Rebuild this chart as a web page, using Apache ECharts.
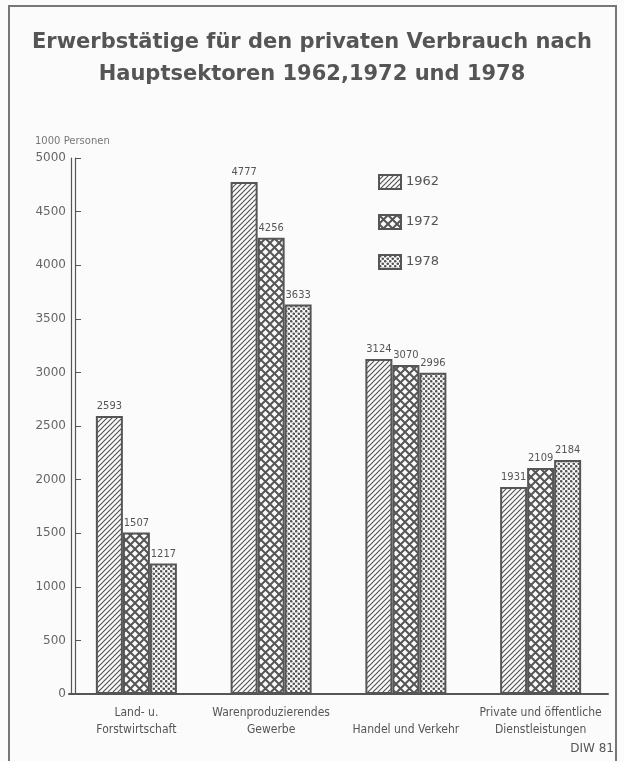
<!DOCTYPE html>
<html>
<head>
<meta charset="utf-8">
<script src="https://cdn.jsdelivr.net/npm/echarts@6/dist/echarts.min.js"></script>
<style>
  html, body { margin: 0; padding: 0; background: #fbfbfb; }
  #chart { width: 624px; height: 761px; }
</style>
</head>
<body>
<div id="chart"></div>
<script>
// Erwerbstätige nach Hauptsektoren, in 1000 Personen
var categories = ['Land- u.\nForstwirtschaft', 'Warenproduzierendes\nGewerbe', '\nHandel und Verkehr', 'Private und öffentliche\nDienstleistungen']
var years = ['1962', '1972', '1978']
var values1962 = [2593, 4777, 3124, 1931]
var values1972 = [1507, 4256, 3070, 2109]
var values1978 = [1217, 3633, 2996, 2184]
var yTicks = [0, 500, 1000, 1500, 2000, 2500, 3000, 3500, 4000, 4500, 5000]

var ink = '#555'

// Schraffuren als Canvas-Muster
function makeTile (w, h, draw) {
  var c = document.createElement('canvas')
  c.width = w
  c.height = h
  var ctx = c.getContext('2d')
  ctx.fillStyle = '#fbfbfb'
  ctx.fillRect(0, 0, w, h)
  ctx.strokeStyle = ink
  ctx.fillStyle = ink
  draw(ctx)
  return { image: c, repeat: 'repeat' }
}
var hatch = makeTile(5, 5, function (ctx) {
  ctx.lineWidth = 1.2
  ctx.beginPath()
  ctx.moveTo(0, 5); ctx.lineTo(5, 0)
  ctx.moveTo(-1, 1); ctx.lineTo(1, -1)
  ctx.moveTo(4, 6); ctx.lineTo(6, 4)
  ctx.stroke()
})
var cross = makeTile(9, 9, function (ctx) {
  ctx.lineWidth = 2
  ctx.beginPath()
  ctx.moveTo(0, 0); ctx.lineTo(9, 9)
  ctx.moveTo(0, 9); ctx.lineTo(9, 0)
  ctx.stroke()
})
var dots = makeTile(5, 5, function (ctx) {
  ctx.beginPath(); ctx.arc(1.25, 1.25, 1.3, 0, Math.PI * 2); ctx.fill()
  ctx.beginPath(); ctx.arc(3.75, 3.75, 1.3, 0, Math.PI * 2); ctx.fill()
})
var patterns = [hatch, cross, dots]
var seriesValues = [values1962, values1972, values1978]

var narrow = "'Liberation Sans Narrow', 'DejaVu Sans Condensed', sans-serif"

var chart = echarts.init(document.getElementById('chart'))
var option = {
  backgroundColor: '#fbfbfb',
  animation: false,
  title: {
    text: 'Erwerbstätige für den privaten Verbrauch nach\nHauptsektoren 1962,1972 und 1978',
    left: 'center',
    top: 22,
    textStyle: {
      fontFamily: 'DejaVu Sans',
      fontWeight: 'bold',
      fontSize: 21,
      lineHeight: 32,
      color: ink
    }
  },
  legend: {
    data: years,
    orient: 'vertical',
    left: 373,
    top: 169,
    itemWidth: 22,
    itemHeight: 14,
    itemGap: 24,
    icon: 'rect',
    textStyle: { fontFamily: 'DejaVu Sans', fontSize: 13, color: ink, padding: [0, 0, 0, 0] }
  },
  grid: { left: 69, right: 16, top: 158, bottom: 67 },
  xAxis: {
    type: 'category',
    data: categories,
    axisLine: { lineStyle: { color: ink, width: 2 } },
    axisTick: { show: false },
    axisLabel: {
      fontFamily: narrow,
      fontSize: 12,
      lineHeight: 17,
      color: ink,
      margin: 10,
      interval: 0
    }
  },
  yAxis: [
    {
      type: 'value',
      position: 'left',
      min: 0,
      max: 5000,
      interval: 500,
      offset: -6,
      name: '1000 Personen',
      nameLocation: 'end',
      nameGap: 12,
      nameTextStyle: { fontFamily: 'DejaVu Sans', fontSize: 10, color: '#777', align: 'left', padding: [0, 0, 0, -40] },
      axisLine: { show: true, lineStyle: { color: ink, width: 1.2 } },
      axisTick: { show: true, inside: true, length: 6, lineStyle: { color: ink } },
      axisLabel: {
        fontFamily: 'DejaVu Sans',
        fontSize: 12,
        color: '#666',
        margin: 9,
        formatter: function (v) { return yTicks.indexOf(v) >= 0 ? String(v) : '' }
      },
      splitLine: { show: false }
    },
    {
      type: 'value',
      position: 'left',
      min: 0,
      max: 5000,
      interval: 500,
      offset: -2,
      axisLine: { show: true, lineStyle: { color: ink, width: 1.2 } },
      axisTick: { show: false },
      axisLabel: { show: false },
      splitLine: { show: false }
    }
  ],
  series: years.map(function (y, i) {
    return {
      name: y,
      type: 'bar',
      data: seriesValues[i],
      barWidth: 27,
      barGap: '0%',
      itemStyle: { color: patterns[i], borderColor: ink, borderWidth: 2 },
      label: {
        show: true,
        position: 'top',
        distance: 4,
        fontFamily: narrow,
        fontSize: 11,
        color: ink
      }
    }
  }),
  graphic: [
    {
      type: 'rect',
      shape: { x: 9, y: 6, width: 607, height: 770 },
      style: { fill: null, stroke: '#777', lineWidth: 2 },
      silent: true
    },
    {
      type: 'text',
      right: 10,
      bottom: 6,
      style: { text: 'DIW 81', font: '12px DejaVu Sans', fill: ink }
    }
  ]
}
chart.setOption(option)
</script>
</body>
</html>
